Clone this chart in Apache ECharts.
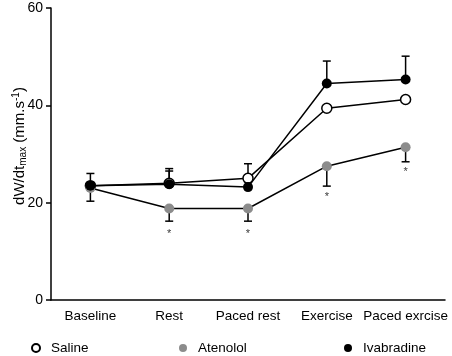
<!DOCTYPE html>
<html>
<head>
<meta charset="utf-8">
<script src="https://cdn.jsdelivr.net/npm/echarts@6/dist/echarts.min.js"></script>
<style>
  html, body { margin: 0; padding: 0; background: #fff; }
  #chart { width: 452px; height: 356px; }
</style>
</head>
<body>
<div id="chart"></div>
<script>
const categories = ['Baseline', 'Rest', 'Paced rest', 'Exercise', 'Paced exrcise'];
const yTicks = [0, 20, 40, 60];

// means
const saline = [23.5, 24.0, 25.0, 39.4, 41.2];
const atenolol = [23.0, 18.8, 18.8, 27.5, 31.4];
const ivabradine = [23.5, 23.8, 23.2, 44.5, 45.3];

// one-sided error bar ends: [category index, mean, end]
const salineErr = [[1, 24.0, 27.0], [2, 25.0, 28.0]];
const atenololErr = [[0, 23.0, 20.3], [1, 18.8, 16.2], [2, 18.8, 16.2], [3, 27.5, 23.4], [4, 31.4, 28.4]];
const ivabradineErr = [[0, 23.5, 26.0], [1, 23.8, 26.5], [3, 44.5, 49.1], [4, 45.3, 50.1]];

// significance markers (*) under atenolol
const stars = [[1, 13.6], [2, 13.6], [3, 21.2], [4, 26.3]];

const FONT = 'Liberation Sans';
const GREY = '#8c8c8c';

function errorBar(params, api) {
  const x = api.value(0);
  const p0 = api.coord([x, api.value(1)]);
  const p1 = api.coord([x, api.value(2)]);
  const cap = 4;
  const style = { stroke: '#000', lineWidth: 1.5 };
  return {
    type: 'group',
    children: [
      { type: 'line', shape: { x1: p0[0], y1: p0[1], x2: p1[0], y2: p1[1] }, style },
      { type: 'line', shape: { x1: p1[0] - cap, y1: p1[1], x2: p1[0] + cap, y2: p1[1] }, style }
    ]
  };
}

function errSeries(data) {
  return { type: 'custom', renderItem: errorBar, data, z: 1, silent: true };
}

function lineSeries(name, data, fill) {
  return {
    name, type: 'line', data, symbol: 'circle', symbolSize: 10, z: 3,
    lineStyle: { color: '#000', width: 1.5 },
    itemStyle: { color: fill, borderColor: fill === '#fff' ? '#000' : fill, borderWidth: fill === '#fff' ? 1.5 : 0 }
  };
}

function legendAt(name, left) {
  return {
    data: [name], left, top: 336, icon: 'circle', itemWidth: 8, itemHeight: 8,
    textStyle: { fontFamily: FONT, fontSize: 13.5, color: '#000', padding: [0, 0, 0, 6] },
    selectedMode: false
  };
}

const chart = echarts.init(document.getElementById('chart'));
chart.setOption({
  animation: false,
  backgroundColor: '#fff',
  grid: { left: 51, right: 7, top: 8, bottom: 56, containLabel: false, outerBoundsMode: 'none' },
  legend: [legendAt('Saline', 26), legendAt('Atenolol', 174), legendAt('Ivabradine', 339)],
  xAxis: {
    type: 'category', data: categories,
    axisLine: { lineStyle: { color: '#000', width: 1.5 } },
    axisTick: { alignWithLabel: true, length: 5, lineStyle: { color: '#000', width: 1.5 } },
    axisLabel: { fontFamily: FONT, fontSize: 13.5, color: '#000', margin: 9, interval: 0 }
  },
  yAxis: {
    type: 'value', min: 0, max: 60, interval: 20,
    name: '{a|dW/dt}{s|max}{a| (mm.s}{p|-1}{a|)}',
    nameLocation: 'middle', nameRotate: 90, nameGap: 23, nameMoveOverlap: false,
    nameTextStyle: {
      fontFamily: FONT, fontSize: 15, color: '#000', padding: [0, 0, 0, 16],
      rich: {
        a: { fontFamily: FONT, fontSize: 15, color: '#000' },
        s: { fontFamily: FONT, fontSize: 10, color: '#000', padding: [7, 0, 0, 0] },
        p: { fontFamily: FONT, fontSize: 10, color: '#000', padding: [0, 0, 7, 0] }
      }
    },
    axisLine: { show: true, lineStyle: { color: '#000', width: 1.5 } },
    axisTick: { show: true, length: 5, lineStyle: { color: '#000', width: 1.5 } },
    axisLabel: { fontFamily: FONT, fontSize: 14, color: '#000', margin: 8,
      formatter: v => yTicks.includes(v) ? String(v) : '' },
    splitLine: { show: false }
  },
  series: [
    errSeries(salineErr),
    errSeries(atenololErr),
    errSeries(ivabradineErr),
    lineSeries('Saline', saline, '#fff'),
    lineSeries('Atenolol', atenolol, GREY),
    lineSeries('Ivabradine', ivabradine, '#000'),
    {
      type: 'scatter', data: stars, symbolSize: 0, silent: true,
      label: { show: true, formatter: '*', position: 'inside', fontFamily: FONT, fontSize: 11, color: '#000' }
    }
  ]
});
</script>
</body>
</html>
